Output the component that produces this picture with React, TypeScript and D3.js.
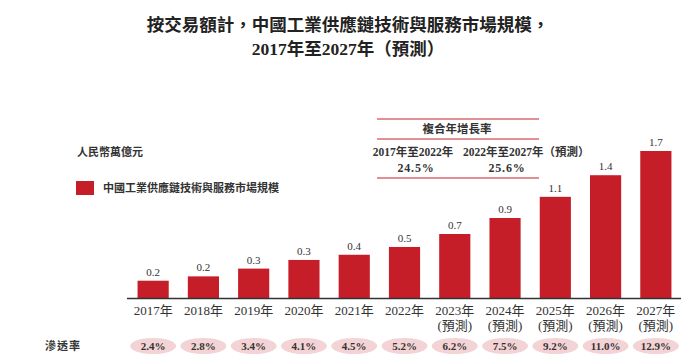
import React from 'react';
import * as d3 from 'd3';

const years = ['2017', '2018', '2019', '2020', '2021', '2022', '2023', '2024', '2025', '2026', '2027'];
const forecast = [false, false, false, false, false, false, true, true, true, true, true];
// bar heights
const marketSize = [0.2, 0.25, 0.34, 0.44, 0.5, 0.59, 0.74, 0.925, 1.17, 1.42, 1.7];
// value labels as printed on the chart
const sizeLabels = ['0.2', '0.2', '0.3', '0.3', '0.4', '0.5', '0.7', '0.9', '1.1', '1.4', '1.7'];
const penetration = ['2.4%', '2.8%', '3.4%', '4.1%', '4.5%', '5.2%', '6.2%', '7.5%', '9.2%', '11.0%', '12.9%'];
const cagrPeriods = ['2017年至2022年', '2022年至2027年（預測）'];
const cagrValues = ['24.5%', '25.6%'];

const W = 696;
const H = 364;
const RED = '#c61e29';
const SERIF = '"Liberation Serif", "DejaVu Serif", "Noto Sans CJK TC", serif';

export default function App() {
  const x = d3.scaleBand<string>()
    .domain(years)
    .range([128, 681])
    .paddingInner(0.38)
    .paddingOuter(0.19);

  const y = d3.scaleLinear()
    .domain([0, d3.max(marketSize) as number])
    .range([298, 151]);

  const cx = (yr: string) => (x(yr) as number) + x.bandwidth() / 2;

  return (
    <svg width={W} height={H} style={{ position: 'absolute', left: 0, top: 0, background: '#fff' }}
      fontFamily={SERIF}>
      {/* title */}
      <text x={348} y={31} textAnchor="middle" fontSize={17.5} fontWeight="bold" fill="#222">
        按交易額計，中國工業供應鏈技術與服務市場規模，
      </text>
      <text x={348} y={55} textAnchor="middle" fontSize={17.5} fontWeight="bold" fill="#222">
        2017年至2027年（預測）
      </text>

      {/* unit + legend */}
      <text x={77} y={156} fontSize={11} fontWeight="bold" fill="#333">人民幣萬億元</text>
      <rect x={76} y={181} width={18} height={14} fill={RED} />
      <text x={103} y={192} fontSize={11} fontWeight="bold" fill="#333">中國工業供應鏈技術與服務市場規模</text>

      {/* CAGR box */}
      {[119, 139, 178].map((ly) => (
        <line key={ly} x1={377} x2={539} y1={ly} y2={ly} stroke={RED} strokeWidth={1} />
      ))}
      <text x={457} y={133} textAnchor="middle" fontSize={11.5} fontWeight="bold" fill="#333">複合年增長率</text>
      <text x={413} y={156} textAnchor="middle" fontSize={11.5} fontWeight="bold" fill="#333">{cagrPeriods[0]}</text>
      <text x={416} y={172} textAnchor="middle" fontSize={12} fontWeight="bold" fill="#333"
        letterSpacing={0.8}>{cagrValues[0]}</text>
      <text x={463} y={156} fontSize={11.5} fontWeight="bold" fill="#333">{cagrPeriods[1]}</text>
      <text x={507} y={172} textAnchor="middle" fontSize={12} fontWeight="bold" fill="#333"
        letterSpacing={0.8}>{cagrValues[1]}</text>

      {/* bars */}
      {years.map((yr, i) => (
        <g key={yr}>
          <rect x={x(yr)} y={y(marketSize[i])} width={x.bandwidth()} height={y(0) - y(marketSize[i])} fill={RED} />
          <text x={cx(yr)} y={y(marketSize[i]) - 5} textAnchor="middle" fontSize={11} fill="#333">
            {sizeLabels[i]}
          </text>
          <text x={cx(yr)} y={315} textAnchor="middle" fontSize={13} fill="#333">{yr}年</text>
          {forecast[i] && (
            <text x={cx(yr)} y={330} textAnchor="middle" fontSize={13} fill="#333">(預測)</text>
          )}
          <ellipse cx={cx(yr)} cy={346} rx={23} ry={8} fill="#f3d3d5" />
          <text x={cx(yr)} y={350} textAnchor="middle" fontSize={11} fontWeight="bold" fill="#333">
            {penetration[i]}
          </text>
        </g>
      ))}

      {/* axis baseline */}
      <line x1={127} x2={681} y1={298.5} y2={298.5} stroke="#333" strokeWidth={1.5} />

      <text x={45} y={350} fontSize={11} fontWeight="bold" fill="#333" letterSpacing={1}>滲透率</text>
    </svg>
  );
}
